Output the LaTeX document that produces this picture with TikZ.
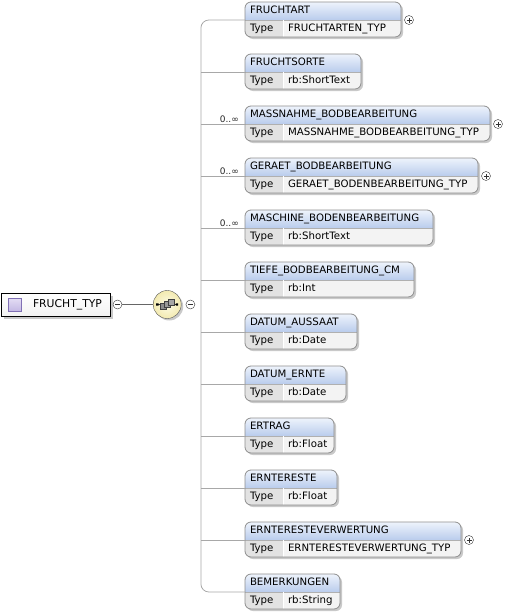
\documentclass[tikz,border=0pt]{standalone}
\usepackage{fontspec}
\setmainfont{DejaVu Sans}
\usepackage{xcolor}
\usepackage{tikz}
\usetikzlibrary{positioning,backgrounds}

\definecolor{hdtop}{HTML}{EEF3FC}
\definecolor{hdbot}{HTML}{B9CCEC}
\definecolor{tcell}{HTML}{E2E2E2}
\definecolor{vcell}{HTML}{F3F3F3}
\definecolor{framec}{HTML}{8E8E8E}
\definecolor{shadowc}{HTML}{C9C9C9}
\definecolor{spinec}{HTML}{A8A8A8}
\definecolor{lavtop}{HTML}{E4DEF4}
\definecolor{lavbot}{HTML}{C4B8E4}
\definecolor{lavline}{HTML}{8070B4}
\definecolor{seqin}{HTML}{FDFBE6}
\definecolor{seqout}{HTML}{F3EAB0}

\begin{document}
\begin{tikzpicture}[
  x=1pt, y=-1pt,
  font=\fontsize{10.2}{12}\selectfont,
  hdr/.style={anchor=north west, text width=#1, align=left, minimum height=18pt,
              inner xsep=5pt, inner ysep=0pt, outer sep=0pt, text height=7.5pt, text depth=2pt},
  tlab/.style={anchor=north west, text width=28pt, align=left, minimum height=17pt,
               inner xsep=5pt, inner ysep=0pt, outer sep=0pt, text height=7.5pt, text depth=2pt},
  tval/.style={tlab, text width=#1},
  pm/.style={circle, draw=black!80, fill=white, minimum size=9pt, inner sep=0pt, outer sep=0pt},
  plus/.style={pm, path picture={
      \draw[black!80] ([xshift=-2.5pt]path picture bounding box.center) -- ([xshift=2.5pt]path picture bounding box.center)
                      ([yshift=-2.5pt]path picture bounding box.center) -- ([yshift=2.5pt]path picture bounding box.center);}},
  minus/.style={pm, path picture={
      \draw[black!80] ([xshift=-2.5pt]path picture bounding box.center) -- ([xshift=2.5pt]path picture bounding box.center);}},
  mult/.style={font=\fontsize{9}{10}\selectfont, inner sep=1pt, text=black!85},
  root/.style={anchor=north west, draw=black, top color=white, bottom color=black!5,
               minimum width=109pt, minimum height=23pt, text width=93pt, align=right,
               inner xsep=8pt, inner ysep=0pt, outer sep=0pt, font=\fontsize{10.8}{12}\selectfont},
  ticon/.style={rectangle, draw=lavline, top color=lavtop, bottom color=lavbot,
                minimum size=13pt, inner sep=0pt},
  seq/.style={circle, draw=black!65, inner color=seqin, outer color=seqout,
              minimum size=28pt, inner sep=0pt},
  conn/.style={draw=spinec, line width=0.8pt},
  link/.style={draw=black!60, line width=1.6pt},
  frame/.style={draw=framec, line width=0.8pt},
]
\useasboundingbox (0,0) rectangle (508,616);

% root type and sequence
\node[root] (ft) at (1,293) {FRUCHT\_TYP};
\node[ticon, right=7pt of ft.west] (ft-i) {};
\node[minus, right=3pt of ft.east] (ft-m) {};
\node[seq, right=31pt of ft-m.east] (sq) {};
\node[minus, right=4.5pt of sq.east] (sq-m) {};
\coordinate[right=6pt of sq-m.east] (spine);
\draw[link] (ft-m) -- (sq);
\begin{scope}[shift={(sq.center)}]
  \draw[black!80, line width=0.8pt] (-10,0) -- (10,0);
  \fill[black] (-11,-1.2) rectangle (-8.6,1.2) (8.6,-1.2) rectangle (11,1.2);
  \filldraw[fill=black!45, draw=black!75] (-7,-1) rectangle (-1.5,4.5);
  \filldraw[fill=black!40, draw=black!75] (-3,-3) rectangle (2.5,2.5);
  \filldraw[fill=black!35, draw=black!75] (1,-5) rectangle (6.5,0.5);
\end{scope}

% child elements
\node[hdr=146pt] (fa) at (245,2) {FRUCHTART};
\node[tlab] (fa-t) at (fa.south west) {Type};
\node[tval=108pt] (fa-v) at (fa-t.north east) {FRUCHTARTEN\_TYP};
\node[plus, right=3.5pt of fa.south east] (fa-x) {};

\node[hdr=106pt, below right=17pt and 0pt of fa-t.south west] (fs) {FRUCHTSORTE};
\node[tlab] (fs-t) at (fs.south west) {Type};
\node[tval=68pt] (fs-v) at (fs-t.north east) {rb:ShortText};

\node[hdr=235pt, below right=17pt and 0pt of fs-t.south west] (mb) {MASSNAHME\_BODBEARBEITUNG};
\node[tlab] (mb-t) at (mb.south west) {Type};
\node[tval=197pt] (mb-v) at (mb-t.north east) {MASSNAHME\_BODBEARBEITUNG\_TYP};
\node[plus, right=3.5pt of mb.south east] (mb-x) {};
\node[mult, above left=0.5pt and 5pt of mb.south west] (mb-m) {0..∞};

\node[hdr=223pt, below right=17pt and 0pt of mb-t.south west] (gb) {GERAET\_BODBEARBEITUNG};
\node[tlab] (gb-t) at (gb.south west) {Type};
\node[tval=185pt] (gb-v) at (gb-t.north east) {GERAET\_BODENBEARBEITUNG\_TYP};
\node[plus, right=3.5pt of gb.south east] (gb-x) {};
\node[mult, above left=0.5pt and 5pt of gb.south west] (gb-m) {0..∞};

\node[hdr=178pt, below right=17pt and 0pt of gb-t.south west] (mc) {MASCHINE\_BODENBEARBEITUNG};
\node[tlab] (mc-t) at (mc.south west) {Type};
\node[tval=140pt] (mc-v) at (mc-t.north east) {rb:ShortText};
\node[mult, above left=0.5pt and 5pt of mc.south west] (mc-m) {0..∞};

\node[hdr=159pt, below right=17pt and 0pt of mc-t.south west] (tb) {TIEFE\_BODBEARBEITUNG\_CM};
\node[tlab] (tb-t) at (tb.south west) {Type};
\node[tval=121pt] (tb-v) at (tb-t.north east) {rb:Int};

\node[hdr=102pt, below right=17pt and 0pt of tb-t.south west] (da) {DATUM\_AUSSAAT};
\node[tlab] (da-t) at (da.south west) {Type};
\node[tval=64pt] (da-v) at (da-t.north east) {rb:Date};

\node[hdr=91pt, below right=17pt and 0pt of da-t.south west] (de) {DATUM\_ERNTE};
\node[tlab] (de-t) at (de.south west) {Type};
\node[tval=53pt] (de-v) at (de-t.north east) {rb:Date};

\node[hdr=79pt, below right=17pt and 0pt of de-t.south west] (er) {ERTRAG};
\node[tlab] (er-t) at (er.south west) {Type};
\node[tval=41pt] (er-v) at (er-t.north east) {rb:Float};

\node[hdr=82pt, below right=17pt and 0pt of er-t.south west] (ee) {ERNTERESTE};
\node[tlab] (ee-t) at (ee.south west) {Type};
\node[tval=44pt] (ee-v) at (ee-t.north east) {rb:Float};

\node[hdr=206pt, below right=17pt and 0pt of ee-t.south west] (ev) {ERNTERESTEVERWERTUNG};
\node[tlab] (ev-t) at (ev.south west) {Type};
\node[tval=168pt] (ev-v) at (ev-t.north east) {ERNTERESTEVERWERTUNG\_TYP};
\node[plus, right=3.5pt of ev.south east] (ev-x) {};

\node[hdr=85pt, below right=17pt and 0pt of ev-t.south west] (bm) {BEMERKUNGEN};
\node[tlab] (bm-t) at (bm.south west) {Type};
\node[tval=47pt] (bm-v) at (bm-t.north east) {rb:String};

% connectors
\draw[conn, rounded corners=8pt] (fa.south west) -| (spine) |- (bm.south west);
\foreach \e in {fs,mb,gb,mc,tb,da,de,er,ee,ev}
  \draw[conn] (\e.south west) -- (\e.south west -| spine);

% boxes and shadows
\begin{scope}[on background layer]
  \fill[shadowc] ([shift={(3,3)}]ft.north west) rectangle ([shift={(3,3)}]ft.south east);
  \fill[shadowc] ([shift={(2,2)}]sq.center) circle (14pt);
  \foreach \e in {fa,fs,mb,gb,mc,tb,da,de,er,ee,ev,bm} {
    \fill[shadowc, rounded corners=6pt] ([shift={(2,2)}]\e.north west) rectangle ([shift={(2,2)}]\e-v.south east);
    \begin{scope}
      \clip[rounded corners=6pt] (\e.north west) rectangle (\e-v.south east);
      \shade[top color=hdtop, bottom color=hdbot] (\e.north west) rectangle (\e.south east);
      \fill[tcell] (\e-t.north west) rectangle (\e-t.south east);
      \fill[vcell] (\e-v.north west) rectangle (\e-v.south east);
    \end{scope}
    \draw[framec!70] (\e.south west) -- (\e.south east);
    \draw[white] (\e-t.north east) -- (\e-t.south east);
    \draw[frame, rounded corners=6pt] (\e.north west) rectangle (\e-v.south east);
  }
\end{scope}
\end{tikzpicture}
\end{document}
